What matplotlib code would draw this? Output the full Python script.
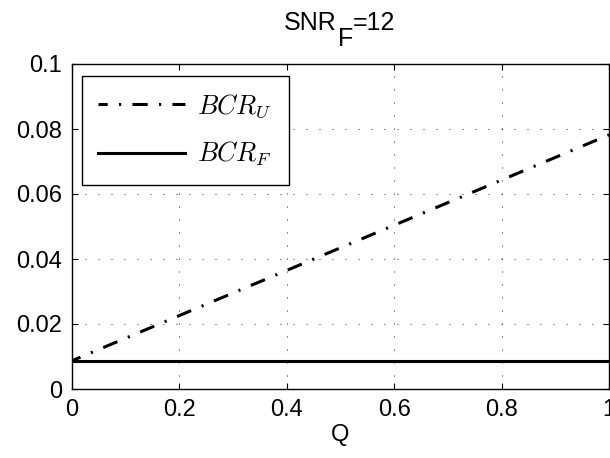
import numpy as np
import matplotlib
matplotlib.use('Agg')
import matplotlib.pyplot as plt

plt.rcParams['font.family'] = ['Liberation Sans', 'DejaVu Sans']
plt.rcParams['mathtext.fontset'] = 'cm'

q = [0.0, 0.2, 0.4, 0.6, 0.8, 1.0]
bcr_u = [0.0087, 0.0226, 0.0365, 0.0504, 0.0643, 0.0782]
bcr_f = [0.0087, 0.0087, 0.0087, 0.0087, 0.0087, 0.0087]

W, H = 610, 458
fig = plt.figure(figsize=(W / 100, H / 100), dpi=100)
ax = fig.add_axes([72 / W, (H - 389) / H, 537 / W, 325 / H])

ax.plot(q, bcr_u, color='black', linestyle=(2, (5, 3.7, 0.7, 3.7)), linewidth=2.2, label=r'$BCR_U$')
ax.plot(q, bcr_f, color='black', linestyle='-', linewidth=2.2, label=r'$BCR_F$')

ax.set_xlim(0, 1)
ax.set_ylim(0, 0.1)
ax.set_xticks([0, 0.2, 0.4, 0.6, 0.8, 1])
ax.set_xticklabels(['0', '0.2', '0.4', '0.6', '0.8', '1'])
ax.set_yticks([0, 0.02, 0.04, 0.06, 0.08, 0.1])
ax.set_yticklabels(['0', '0.02', '0.04', '0.06', '0.08', '0.1'])
ax.tick_params(direction='in', top=True, right=True, labelsize=17, length=4, width=0.8)
ax.tick_params(axis='x', pad=7)
ax.tick_params(axis='y', pad=7)
ax.grid(True, color='black', linestyle=(0, (1.2, 14.4)), linewidth=0.6)
for s in ax.spines.values():
    s.set_linewidth(1)

ax.set_xlabel('Q', fontsize=17, labelpad=2)

# title with a full-size, lowered subscript (MATLAB tex style)
fs = 18
t1 = fig.text(284 / W, (H - 30) / H, 'SNR', fontsize=fs, va='baseline', ha='left')
fig.canvas.draw()
r = fig.canvas.get_renderer()
x1 = t1.get_window_extent(r).x1
t2 = fig.text((x1 + 1) / W, (H - 46) / H, 'F', fontsize=fs, va='baseline', ha='left')
x2 = t2.get_window_extent(r).x1
fig.text(x2 / W, (H - 30) / H, '=12', fontsize=fs, va='baseline', ha='left')

leg = ax.legend(loc='upper left', bbox_to_anchor=(10 / 537, 1 - 12 / 325), fontsize=19,
                handlelength=3.3, handletextpad=0.45, borderpad=0.62, labelspacing=0.75,
                borderaxespad=0, fancybox=False, framealpha=1, edgecolor='black')
leg.get_frame().set_linewidth(1)

fig.savefig('out.png', dpi=100)
